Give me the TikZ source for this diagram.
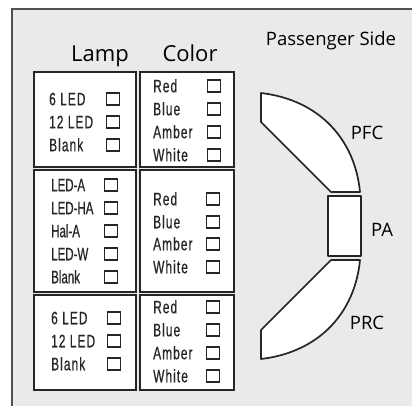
\documentclass[tikz,border=0pt]{standalone}
\usepackage{fontspec}
\setmainfont{Open Sans}
\newfontfamily\nar[FakeStretch=0.66,LetterSpace=6,FakeBold=0.6]{Liberation Sans}
\newfontfamily\narb[FakeStretch=0.64,FakeBold=0.6]{Liberation Sans}
\definecolor{bg}{HTML}{EAEAEA}
\definecolor{ink}{HTML}{262626}
\begin{document}
\begin{tikzpicture}[x=1pt,y=-1pt,
  panel/.style={draw=ink,line width=1.7pt,fill=white},
  cbox/.style={draw=ink,line width=1.3pt,fill=white,minimum width=12.5pt,minimum height=12pt,inner sep=0pt},
  item/.style={anchor=west,inner sep=0pt,text height=12.5pt,text depth=0pt,font=\nar\fontsize{18}{18}\selectfont,text=ink},
  itemb/.style={item,font=\narb\fontsize{18}{18}\selectfont},
  head/.style={anchor=base,inner sep=0pt,font=\fontsize{22}{22}\selectfont,text=black},
  lab/.style={anchor=base,inner sep=0pt,font=\fontsize{18.5}{18.5}\selectfont,text=black},
  part/.style={draw=ink,line width=1.7pt,fill=white,line join=round}]
\useasboundingbox (0,0) rectangle (412,406);
\fill[white] (0,0) rectangle (412,406);
\fill[bg] (12,9) rectangle (412,406);
\draw[ink!80,line width=1.5pt] (12,406) coordinate (fb) -- (12,9) coordinate (fc) -- (412,9) coordinate (fr);
% headings
\node[head] (hl) at (100,62) {Lamp};
\node[head] (hc) at (190,62) {Color};
\node[lab] (hp) at (331,46) {Passenger Side};
% panels
\draw[panel] (34,72) rectangle (136,167);
\draw[panel] (140,72) rectangle (234,167);
\draw[panel] (34,170) rectangle (136,292);
\draw[panel] (140,170) rectangle (234,292);
\draw[panel] (34,295) rectangle (136,390);
\draw[panel] (140,295) rectangle (234,390);
% row 1 lamp
\node[item] (a1) at (49,99) {6 LED};
\node[item] (a2) at (49,122) {12 LED};
\node[item] (a3) at (49,145) {Blank};
\node[cbox] (ab1) at (113,99) {};
\node[cbox] (ab2) at (113,122) {};
\node[cbox] (ab3) at (113,145) {};
% row 1 color
\node[item] (c1) at (153,86) {Red};
\node[item] (c2) at (153,109) {Blue};
\node[item] (c3) at (153,132) {Amber};
\node[item] (c4) at (153,155) {White};
\node[cbox] (cb1) at (214,86) {};
\node[cbox] (cb2) at (214,109) {};
\node[cbox] (cb3) at (214,132) {};
\node[cbox] (cb4) at (214,155) {};
% row 2 lamp
\node[itemb] (b1) at (51,185) {LED-A};
\node[itemb] (b2) at (51,208) {LED-HA};
\node[itemb] (b3) at (51,231) {Hal-A};
\node[itemb] (b4) at (51,254) {LED-W};
\node[itemb] (b5) at (51,277) {Blank};
\node[cbox] (bb1) at (111,185) {};
\node[cbox] (bb2) at (111,208) {};
\node[cbox] (bb3) at (111,231) {};
\node[cbox] (bb4) at (111,254) {};
\node[cbox] (bb5) at (111,277) {};
% row 2 color
\node[item] (d1) at (153,199) {Red};
\node[item] (d2) at (153,222) {Blue};
\node[item] (d3) at (153,244) {Amber};
\node[item] (d4) at (153,267) {White};
\node[cbox] (db1) at (213,199) {};
\node[cbox] (db2) at (213,222) {};
\node[cbox] (db3) at (213,244) {};
\node[cbox] (db4) at (213,267) {};
% row 3 lamp
\node[item] (e1) at (51,318) {6 LED};
\node[item] (e2) at (51,341) {12 LED};
\node[item] (e3) at (51,364) {Blank};
\node[cbox] (eb1) at (114,318) {};
\node[cbox] (eb2) at (114,341) {};
\node[cbox] (eb3) at (114,364) {};
% row 3 color
\node[item] (f1) at (153,307) {Red};
\node[item] (f2) at (153,330) {Blue};
\node[item] (f3) at (153,353) {Amber};
\node[item] (f4) at (153,376) {White};
\node[cbox] (fb1) at (213,307) {};
\node[cbox] (fb2) at (213,330) {};
\node[cbox] (fb3) at (213,353) {};
\node[cbox] (fb4) at (213,376) {};
% passenger side parts
\draw[part] (261,93) .. controls (320,100) and (355,140) .. (360,192) -- (331,192) -- (261,122) -- cycle;
\draw[part] (328,196) rectangle (361,256);
\draw[part] (261,359) .. controls (320,352) and (355,312) .. (360,260) -- (331,260) -- (261,330) -- cycle;
\node[lab] (pfc) at (367,140) {PFC};
\node[lab] (pa) at (382,236) {PA};
\node[lab] (prc) at (367,329) {PRC};
\end{tikzpicture}
\end{document}
